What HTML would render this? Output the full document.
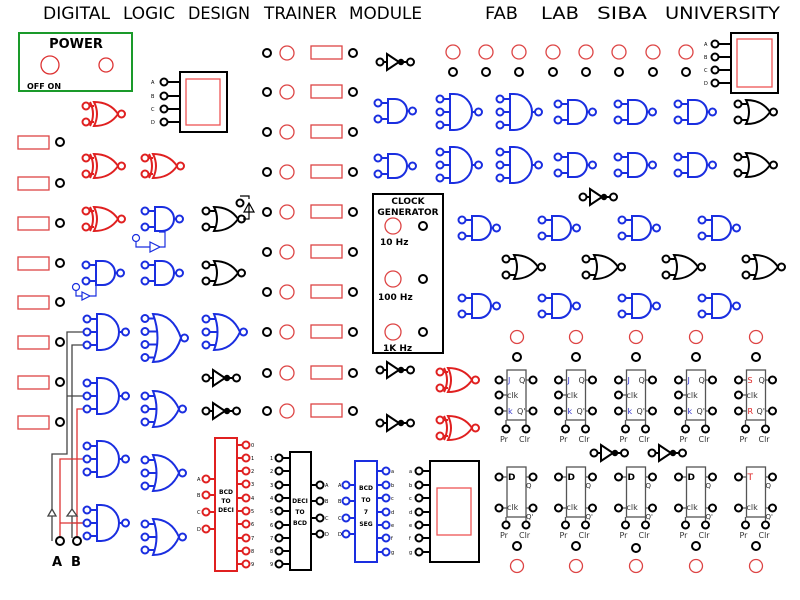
<!DOCTYPE html>
<html><head><meta charset="utf-8"><style>
html,body{margin:0;padding:0;background:#fff}
svg{display:block}
text{font-family:"DejaVu Sans","Liberation Sans",sans-serif}
</style></head><body>
<svg width="800" height="600" viewBox="0 0 800 600" xmlns="http://www.w3.org/2000/svg">
<defs>
<g id="pin"><circle r="4" fill="#fff" stroke="#000" stroke-width="2"/></g>
<g id="a2" fill="#fff" stroke="currentColor" stroke-width="2"><path d="M3.5,-8H10M3.5,8H10M29,0H31" fill="none"/><path d="M10,-12H17A12,12 0 0 1 17,12H10Z"/><circle cx="0" cy="-8" r="3.5"/><circle cx="0" cy="8" r="3.5"/><circle cx="34.5" cy="0" r="3.5"/></g>
<g id="a3" fill="#fff" stroke="currentColor" stroke-width="2"><path d="M3.5,-13H10M3.5,0H10M3.5,13H10M32,0H35" fill="none"/><path d="M10,-18H14A18,18 0 0 1 14,18H10Z"/><circle cx="0" cy="-13" r="3.5"/><circle cx="0" cy="0" r="3.5"/><circle cx="0" cy="13" r="3.5"/><circle cx="38.5" cy="0" r="3.5"/></g>
<g id="o2" fill="#fff" stroke="currentColor" stroke-width="2"><path d="M3.5,-8H11M3.5,8H11M32,0H32" fill="none"/><path d="M8,-12Q24,-12 32,0Q24,12 8,12Q14,0 8,-12Z"/><circle cx="0" cy="-8" r="3.5"/><circle cx="0" cy="8" r="3.5"/><circle cx="35.5" cy="0" r="3.5"/></g>
<g id="x2" fill="#fff" stroke="currentColor" stroke-width="2"><path d="M3.5,-8H8M3.5,8H8M4,-12Q10,0 4,12" fill="none"/><path d="M8,-12Q24,-12 32,0Q24,12 8,12Q14,0 8,-12Z"/><circle cx="0" cy="-8" r="3.5"/><circle cx="0" cy="8" r="3.5"/><circle cx="35.5" cy="0" r="3.5"/></g>
<g id="o3" fill="#fff" stroke="currentColor" stroke-width="2"><path d="M3.5,-13H12M3.5,0H14M3.5,13H12" fill="none"/><path d="M8,-18Q26,-18 34,0Q26,18 8,18Q15,0 8,-18Z"/><circle cx="0" cy="-13" r="3.5"/><circle cx="0" cy="0" r="3.5"/><circle cx="0" cy="13" r="3.5"/><circle cx="37.5" cy="0" r="3.5"/></g>
<g id="o4" fill="#fff" stroke="currentColor" stroke-width="2"><path d="M3.5,-19.5H12M3.5,-6.5H15M3.5,6.5H15M3.5,19.5H12" fill="none"/><path d="M8,-24Q28,-24 36,0Q28,24 8,24Q17,0 8,-24Z"/><circle cx="0" cy="-19.5" r="3.5"/><circle cx="0" cy="-6.5" r="3.5"/><circle cx="0" cy="6.5" r="3.5"/><circle cx="0" cy="19.5" r="3.5"/><circle cx="39.5" cy="0" r="3.5"/></g>
<g id="n1" fill="#fff" stroke="currentColor" stroke-width="2"><path d="M3.5,0H7M21,0H27" fill="none"/><path d="M7,-8L19,0L7,8Z"/><circle cx="21" cy="0" r="2.2" fill="currentColor"/><circle cx="0" cy="0" r="3.5"/><circle cx="30.5" cy="0" r="3.5"/></g>
</defs>

<!-- titles -->
<g font-size="17">
<text x="43" y="19" textLength="67" lengthAdjust="spacingAndGlyphs">DIGITAL</text>
<text x="123" y="19" textLength="52" lengthAdjust="spacingAndGlyphs">LOGIC</text>
<text x="188" y="19" textLength="62" lengthAdjust="spacingAndGlyphs">DESIGN</text>
<text x="264" y="19" textLength="73" lengthAdjust="spacingAndGlyphs">TRAINER</text>
<text x="349" y="19" textLength="73" lengthAdjust="spacingAndGlyphs">MODULE</text>
<text x="485" y="19" textLength="33" lengthAdjust="spacingAndGlyphs">FAB</text>
<text x="541" y="19" textLength="38" lengthAdjust="spacingAndGlyphs">LAB</text>
<text x="597" y="19" textLength="50" lengthAdjust="spacingAndGlyphs">SIBA</text>
<text x="665" y="19" textLength="115" lengthAdjust="spacingAndGlyphs">UNIVERSITY</text>
</g>

<!-- power -->
<rect x="19" y="33" width="113" height="58" fill="none" stroke="#1a9a2a" stroke-width="2"/>
<text x="76" y="48" font-size="13" font-weight="bold" text-anchor="middle">POWER</text>
<circle cx="50" cy="65" r="9" fill="none" stroke="#d33" stroke-width="1.3"/>
<circle cx="106" cy="65" r="7" fill="none" stroke="#d33" stroke-width="1.3"/>
<text x="27" y="89" font-size="8" font-weight="bold">OFF  ON</text>

<!-- top-left display -->
<g stroke="#000" stroke-width="2" fill="#fff">
<rect x="180" y="72" width="47" height="60"/>
<path d="M168,82H180M168,96H180M168,109H180M168,122H180"/>
<circle cx="164" cy="82" r="3.5"/><circle cx="164" cy="96" r="3.5"/><circle cx="164" cy="109" r="3.5"/><circle cx="164" cy="122" r="3.5"/>
</g>
<rect x="186" y="79" width="34" height="46" fill="none" stroke="#e55" stroke-width="1.3"/>
<g font-size="5"><text x="151" y="84">A</text><text x="151" y="98">B</text><text x="151" y="111">C</text><text x="151" y="124">D</text></g>

<!-- left red rects + pins -->
<g fill="none" stroke="#d44" stroke-width="1.3">
<rect x="18" y="136" width="31" height="13"/><rect x="18" y="177" width="31" height="13"/><rect x="18" y="217" width="31" height="13"/><rect x="18" y="257" width="31" height="13"/><rect x="18" y="296" width="31" height="13"/><rect x="18" y="336" width="31" height="13"/><rect x="18" y="376" width="31" height="13"/><rect x="18" y="416" width="31" height="13"/>
</g>
<use href="#pin" x="60" y="142"/><use href="#pin" x="60" y="183"/><use href="#pin" x="60" y="223"/><use href="#pin" x="60" y="263"/><use href="#pin" x="60" y="302"/><use href="#pin" x="60" y="342"/><use href="#pin" x="60" y="382"/><use href="#pin" x="60" y="422"/>

<!-- wiring A/B -->
<g fill="none" stroke-width="1.3">
<path d="M52,541V454H67V332H84M72,538V345H84M67,396H84M72,523H84" stroke="#444"/>
<path d="M60,537V459H84M60,523H84M77,537V409H84" stroke="#d33"/>
<path d="M48,516L52,509L56,516ZM67,516L72,509L77,516Z" stroke="#444" fill="#fff"/>
</g>
<circle cx="60" cy="541" r="4" fill="#fff" stroke="#000" stroke-width="2"/><circle cx="77" cy="541" r="4" fill="#fff" stroke="#000" stroke-width="2"/>
<text x="52" y="566" font-size="13" font-weight="bold">A</text><text x="71" y="566" font-size="13" font-weight="bold">B</text>

<!-- left gates -->
<g color="#e02020">
<use href="#x2" x="86" y="114"/><use href="#x2" x="86" y="166"/><use href="#x2" x="86" y="219"/><use href="#x2" x="145" y="166"/>
<use href="#x2" x="440" y="380"/><use href="#x2" x="440" y="428"/>
</g>
<g color="#1a2ee0">
<use href="#a2" x="145" y="219"/><use href="#a2" x="86" y="273"/><use href="#a2" x="145" y="273"/>
<use href="#a3" x="87" y="332"/><use href="#a3" x="87" y="396"/><use href="#a3" x="87" y="459"/><use href="#a3" x="87" y="523"/>
<use href="#o4" x="145" y="338"/><use href="#o3" x="145" y="409"/><use href="#o3" x="145" y="473"/><use href="#o3" x="145" y="537"/>
<use href="#o3" x="206" y="332"/>
<g fill="none" stroke="#1a2ee0" stroke-width="1.2"><circle cx="136" cy="238" r="3.5" fill="#fff"/><path d="M136,242V247H150M150,242L160,247L150,252ZM160,247H165V232H159"/><circle cx="76" cy="287" r="3.5" fill="#fff"/><path d="M76,291V296H82M82,292L90,296L82,300ZM90,296H96V285"/></g>
</g>
<g color="#000">
<use href="#o2" x="206" y="219"/><use href="#o2" x="206" y="273"/>
<use href="#n1" x="206" y="378"/><use href="#n1" x="206" y="411"/>
<g fill="none" stroke="#000" stroke-width="1.2"><path d="M243,219H249V203M244,212L254,212L249,203ZM249,199V196H240"/><circle cx="240" cy="203" r="3.5" fill="#fff" stroke-width="2"/></g>
</g>

<!-- middle column -->
<g>
<use href="#pin" x="267" y="53"/><use href="#pin" x="267" y="92"/><use href="#pin" x="267" y="132"/><use href="#pin" x="267" y="172"/><use href="#pin" x="267" y="212"/><use href="#pin" x="267" y="252"/><use href="#pin" x="267" y="292"/><use href="#pin" x="267" y="332"/><use href="#pin" x="267" y="373"/><use href="#pin" x="267" y="411"/>
<use href="#pin" x="353" y="53"/><use href="#pin" x="353" y="92"/><use href="#pin" x="353" y="132"/><use href="#pin" x="353" y="172"/><use href="#pin" x="353" y="212"/><use href="#pin" x="353" y="252"/><use href="#pin" x="353" y="292"/><use href="#pin" x="353" y="332"/><use href="#pin" x="353" y="373"/><use href="#pin" x="353" y="411"/>
</g>
<g fill="none" stroke="#d44" stroke-width="1.3">
<circle cx="287" cy="53" r="7"/><circle cx="287" cy="92" r="7"/><circle cx="287" cy="132" r="7"/><circle cx="287" cy="172" r="7"/><circle cx="287" cy="212" r="7"/><circle cx="287" cy="252" r="7"/><circle cx="287" cy="292" r="7"/><circle cx="287" cy="332" r="7"/><circle cx="287" cy="373" r="7"/><circle cx="287" cy="411" r="7"/>
<rect x="311" y="46" width="31" height="13"/><rect x="311" y="85" width="31" height="13"/><rect x="311" y="125" width="31" height="13"/><rect x="311" y="165" width="31" height="13"/><rect x="311" y="205" width="31" height="13"/><rect x="311" y="245" width="31" height="13"/><rect x="311" y="285" width="31" height="13"/><rect x="311" y="325" width="31" height="13"/><rect x="311" y="366" width="31" height="13"/><rect x="311" y="404" width="31" height="13"/>
</g>

<!-- inverters -->
<g color="#000">
<use href="#n1" x="380" y="62"/><use href="#n1" x="380" y="370"/><use href="#n1" x="380" y="423"/>
<use href="#n1" x="583" y="197"/><use href="#n1" x="594" y="453"/><use href="#n1" x="652" y="453"/>
</g>

<!-- right gate grid -->
<g color="#1a2ee0">
<use href="#a2" x="378" y="111"/><use href="#a2" x="378" y="166"/>
<use href="#a3" x="440" y="112"/><use href="#a3" x="500" y="112"/><use href="#a3" x="440" y="165"/><use href="#a3" x="500" y="165"/>
<use href="#a2" x="558" y="112"/><use href="#a2" x="618" y="112"/><use href="#a2" x="678" y="112"/>
<use href="#a2" x="558" y="165"/><use href="#a2" x="618" y="165"/><use href="#a2" x="678" y="165"/>
<use href="#a2" x="462" y="228"/><use href="#a2" x="542" y="228"/><use href="#a2" x="622" y="228"/><use href="#a2" x="702" y="228"/>
<use href="#a2" x="462" y="306"/><use href="#a2" x="542" y="306"/><use href="#a2" x="622" y="306"/><use href="#a2" x="702" y="306"/>
</g>
<g color="#000">
<use href="#o2" x="738" y="112"/><use href="#o2" x="738" y="165"/>
<use href="#o2" x="506" y="267"/><use href="#o2" x="586" y="267"/><use href="#o2" x="666" y="267"/><use href="#o2" x="746" y="267"/>
</g>

<!-- top right LEDs -->
<g fill="none" stroke="#d44" stroke-width="1.3">
<circle cx="453" cy="52" r="7"/><circle cx="486" cy="52" r="7"/><circle cx="519" cy="52" r="7"/><circle cx="553" cy="52" r="7"/><circle cx="586" cy="52" r="7"/><circle cx="619" cy="52" r="7"/><circle cx="653" cy="52" r="7"/><circle cx="686" cy="52" r="7"/>
</g>
<use href="#pin" x="453" y="72"/><use href="#pin" x="486" y="72"/><use href="#pin" x="519" y="72"/><use href="#pin" x="553" y="72"/><use href="#pin" x="586" y="72"/><use href="#pin" x="619" y="72"/><use href="#pin" x="653" y="72"/><use href="#pin" x="686" y="72"/>
<g stroke="#000" stroke-width="2" fill="#fff">
<rect x="731" y="33" width="47" height="60"/>
<path d="M719,44H731M719,57H731M719,70H731M719,83H731"/>
<circle cx="715" cy="44" r="3.5"/><circle cx="715" cy="57" r="3.5"/><circle cx="715" cy="70" r="3.5"/><circle cx="715" cy="83" r="3.5"/>
</g>
<rect x="737" y="39" width="35" height="48" fill="none" stroke="#e55" stroke-width="1.3"/>
<g font-size="5"><text x="704" y="46">A</text><text x="704" y="59">B</text><text x="704" y="72">C</text><text x="704" y="85">D</text></g>

<!-- clock generator -->
<rect x="373" y="194" width="70" height="159" fill="none" stroke="#000" stroke-width="2"/>
<text x="408" y="204" font-size="9" font-weight="bold" text-anchor="middle">CLOCK</text>
<text x="408" y="215" font-size="9" font-weight="bold" text-anchor="middle">GENERATOR</text>
<g fill="none" stroke="#d44" stroke-width="1.3"><circle cx="393" cy="226" r="8"/><circle cx="393" cy="279" r="8"/><circle cx="393" cy="332" r="8"/></g>
<use href="#pin" x="423" y="226"/><use href="#pin" x="423" y="279"/><use href="#pin" x="423" y="332"/>
<g font-size="9" font-weight="bold"><text x="380" y="245">10 Hz</text><text x="378" y="300">100 Hz</text><text x="383" y="351">1K Hz</text></g>

<!-- BCD TO DECI -->
<g stroke="#e02020" stroke-width="2" fill="#fff">
<rect x="215" y="438" width="22" height="133"/>
<path d="M210,479H215M210,495H215M210,512H215M210,529H215M237,445H242M237,458H242M237,471H242M237,484H242M237,498H242M237,511H242M237,524H242M237,538H242M237,551H242M237,564H242"/>
<circle cx="206" cy="479" r="3.5"/><circle cx="206" cy="495" r="3.5"/><circle cx="206" cy="512" r="3.5"/><circle cx="206" cy="529" r="3.5"/>
<circle cx="246" cy="445" r="3.5"/><circle cx="246" cy="458" r="3.5"/><circle cx="246" cy="471" r="3.5"/><circle cx="246" cy="484" r="3.5"/><circle cx="246" cy="498" r="3.5"/><circle cx="246" cy="511" r="3.5"/><circle cx="246" cy="524" r="3.5"/><circle cx="246" cy="538" r="3.5"/><circle cx="246" cy="551" r="3.5"/><circle cx="246" cy="564" r="3.5"/>
</g>
<g font-size="5"><text x="197" y="481">A</text><text x="197" y="497">B</text><text x="197" y="514">C</text><text x="197" y="531">D</text>
<text x="251" y="447">0</text><text x="251" y="460">1</text><text x="251" y="473">2</text><text x="251" y="486">3</text><text x="251" y="500">4</text><text x="251" y="513">5</text><text x="251" y="526">6</text><text x="251" y="540">7</text><text x="251" y="553">8</text><text x="251" y="566">9</text></g>
<g font-size="6" font-weight="bold" text-anchor="middle"><text x="226" y="494">BCD</text><text x="226" y="503">TO</text><text x="226" y="512">DECI</text></g>

<!-- DECI TO BCD -->
<g stroke="#000" stroke-width="2" fill="#fff">
<rect x="290" y="452" width="21" height="118"/>
<path d="M283,458H290M283,471H290M283,485H290M283,498H290M283,511H290M283,525H290M283,538H290M283,551H290M283,564H290M311,485H316M311,501H316M311,518H316M311,534H316"/>
<circle cx="279" cy="458" r="3.5"/><circle cx="279" cy="471" r="3.5"/><circle cx="279" cy="485" r="3.5"/><circle cx="279" cy="498" r="3.5"/><circle cx="279" cy="511" r="3.5"/><circle cx="279" cy="525" r="3.5"/><circle cx="279" cy="538" r="3.5"/><circle cx="279" cy="551" r="3.5"/><circle cx="279" cy="564" r="3.5"/>
<circle cx="320" cy="485" r="3.5"/><circle cx="320" cy="501" r="3.5"/><circle cx="320" cy="518" r="3.5"/><circle cx="320" cy="534" r="3.5"/>
</g>
<g font-size="5"><text x="270" y="460">1</text><text x="270" y="473">2</text><text x="270" y="487">3</text><text x="270" y="500">4</text><text x="270" y="513">5</text><text x="270" y="527">6</text><text x="270" y="540">7</text><text x="270" y="553">8</text><text x="270" y="566">9</text>
<text x="325" y="487">A</text><text x="325" y="503">B</text><text x="325" y="520">C</text><text x="325" y="536">D</text></g>
<g font-size="6" font-weight="bold" text-anchor="middle"><text x="300" y="503">DECI</text><text x="300" y="514">TO</text><text x="300" y="525">BCD</text></g>

<!-- BCD TO 7 SEG -->
<g stroke="#1a2ee0" stroke-width="2" fill="#fff">
<rect x="355" y="461" width="22" height="101"/>
<path d="M350,485H355M350,501H355M350,518H355M350,534H355M377,471H382M377,485H382M377,498H382M377,512H382M377,525H382M377,538H382M377,552H382"/>
<circle cx="346" cy="485" r="3.5"/><circle cx="346" cy="501" r="3.5"/><circle cx="346" cy="518" r="3.5"/><circle cx="346" cy="534" r="3.5"/>
<circle cx="386" cy="471" r="3.5"/><circle cx="386" cy="485" r="3.5"/><circle cx="386" cy="498" r="3.5"/><circle cx="386" cy="512" r="3.5"/><circle cx="386" cy="525" r="3.5"/><circle cx="386" cy="538" r="3.5"/><circle cx="386" cy="552" r="3.5"/>
</g>
<g font-size="5"><text x="338" y="487">A</text><text x="338" y="503">B</text><text x="338" y="520">C</text><text x="338" y="536">D</text>
<text x="391" y="473">a</text><text x="391" y="487">b</text><text x="391" y="500">c</text><text x="391" y="514">d</text><text x="391" y="527">e</text><text x="391" y="540">f</text><text x="391" y="554">g</text></g>
<g font-size="6" font-weight="bold" text-anchor="middle"><text x="366" y="490">BCD</text><text x="366" y="502">TO</text><text x="366" y="514">7</text><text x="366" y="526">SEG</text></g>

<!-- 7 seg display -->
<g stroke="#000" stroke-width="2" fill="#fff">
<rect x="430" y="461" width="49" height="101"/>
<path d="M423,471H430M423,485H430M423,498H430M423,512H430M423,525H430M423,538H430M423,552H430"/>
<circle cx="419" cy="471" r="3.5"/><circle cx="419" cy="485" r="3.5"/><circle cx="419" cy="498" r="3.5"/><circle cx="419" cy="512" r="3.5"/><circle cx="419" cy="525" r="3.5"/><circle cx="419" cy="538" r="3.5"/><circle cx="419" cy="552" r="3.5"/>
</g>
<rect x="437" y="488" width="34" height="47" fill="none" stroke="#e55" stroke-width="1.3"/>
<g font-size="5"><text x="409" y="473">a</text><text x="409" y="487">b</text><text x="409" y="500">c</text><text x="409" y="514">d</text><text x="409" y="527">e</text><text x="409" y="540">f</text><text x="409" y="554">g</text></g>

<!-- flip-flops -->
<g fill="none" stroke="#d44" stroke-width="1.3">
<circle cx="517" cy="337" r="6.5"/><circle cx="576" cy="337" r="6.5"/><circle cx="636" cy="337" r="6.5"/><circle cx="696" cy="337" r="6.5"/><circle cx="756" cy="337" r="6.5"/>
<circle cx="517" cy="566" r="6.5"/><circle cx="576" cy="566" r="6.5"/><circle cx="636" cy="566" r="6.5"/><circle cx="696" cy="566" r="6.5"/><circle cx="756" cy="566" r="6.5"/>
</g>
<use href="#pin" x="517" y="357"/><use href="#pin" x="576" y="357"/><use href="#pin" x="636" y="357"/><use href="#pin" x="696" y="357"/><use href="#pin" x="756" y="357"/>
<use href="#pin" x="517" y="546"/><use href="#pin" x="576" y="546"/><use href="#pin" x="636" y="548"/><use href="#pin" x="696" y="546"/><use href="#pin" x="756" y="546"/>

<g id="jk">
<rect x="507" y="370" width="19" height="50" fill="#fff" stroke="#555" stroke-width="1.3"/>
<path d="M503,380H507M503,395H507M503,411H507M526,380H529M526,411H529M506,420V425M526,420V425" stroke="#555" stroke-width="1.3"/>
<circle cx="499" cy="380" r="3.5" fill="#fff" stroke="#000" stroke-width="2"/><circle cx="499" cy="395" r="3.5" fill="#fff" stroke="#000" stroke-width="2"/><circle cx="499" cy="411" r="3.5" fill="#fff" stroke="#000" stroke-width="2"/>
<circle cx="533" cy="380" r="3.5" fill="#fff" stroke="#000" stroke-width="2"/><circle cx="533" cy="411" r="3.5" fill="#fff" stroke="#000" stroke-width="2"/>
<circle cx="506" cy="429" r="3.5" fill="#fff" stroke="#000" stroke-width="2"/><circle cx="526" cy="429" r="3.5" fill="#fff" stroke="#000" stroke-width="2"/>
<text x="508" y="383" font-size="8" fill="#33c">J</text><text x="519" y="383" font-size="8" fill="#333">Q</text>
<text x="507" y="398" font-size="8" fill="#333">clk</text>
<text x="508" y="414" font-size="8" fill="#33c">k</text><text x="517" y="414" font-size="8" fill="#333">Q'</text>
<text x="500" y="442" font-size="8" fill="#333">Pr</text><text x="519" y="442" font-size="8" fill="#333">Clr</text>
</g>
<use href="#jk" x="59.5"/><use href="#jk" x="119.5"/><use href="#jk" x="179.5"/>
<g transform="translate(239.5,0)">
<rect x="507" y="370" width="19" height="50" fill="#fff" stroke="#555" stroke-width="1.3"/>
<path d="M503,380H507M503,395H507M503,411H507M526,380H529M526,411H529M506,420V425M526,420V425" stroke="#555" stroke-width="1.3"/>
<circle cx="499" cy="380" r="3.5" fill="#fff" stroke="#000" stroke-width="2"/><circle cx="499" cy="395" r="3.5" fill="#fff" stroke="#000" stroke-width="2"/><circle cx="499" cy="411" r="3.5" fill="#fff" stroke="#000" stroke-width="2"/>
<circle cx="533" cy="380" r="3.5" fill="#fff" stroke="#000" stroke-width="2"/><circle cx="533" cy="411" r="3.5" fill="#fff" stroke="#000" stroke-width="2"/>
<circle cx="506" cy="429" r="3.5" fill="#fff" stroke="#000" stroke-width="2"/><circle cx="526" cy="429" r="3.5" fill="#fff" stroke="#000" stroke-width="2"/>
<text x="508" y="383" font-size="8" fill="#d22">S</text><text x="519" y="383" font-size="8" fill="#333">Q</text>
<text x="507" y="398" font-size="8" fill="#333">clk</text>
<text x="508" y="414" font-size="8" fill="#d22">R</text><text x="517" y="414" font-size="8" fill="#333">Q'</text>
<text x="500" y="442" font-size="8" fill="#333">Pr</text><text x="519" y="442" font-size="8" fill="#333">Clr</text>
</g>

<g id="dff">
<rect x="507" y="467" width="19" height="50" fill="#fff" stroke="#555" stroke-width="1.3"/>
<path d="M503,477H507M503,508H507M526,477H529M526,508H529M506,517V521M526,517V521" stroke="#555" stroke-width="1.3"/>
<circle cx="499" cy="477" r="3.5" fill="#fff" stroke="#000" stroke-width="2"/><circle cx="499" cy="508" r="3.5" fill="#fff" stroke="#000" stroke-width="2"/>
<circle cx="533" cy="477" r="3.5" fill="#fff" stroke="#000" stroke-width="2"/><circle cx="533" cy="508" r="3.5" fill="#fff" stroke="#000" stroke-width="2"/>
<circle cx="506" cy="525" r="3.5" fill="#fff" stroke="#000" stroke-width="2"/><circle cx="526" cy="525" r="3.5" fill="#fff" stroke="#000" stroke-width="2"/>
<text x="507" y="510" font-size="8" fill="#333">clk</text>
<text x="526" y="488" font-size="7" fill="#333">Q</text><text x="526" y="519" font-size="7" fill="#333">Q'</text>
<text x="500" y="538" font-size="8" fill="#333">Pr</text><text x="519" y="538" font-size="8" fill="#333">Clr</text>
</g>
<use href="#dff" x="59.5"/><use href="#dff" x="119.5"/><use href="#dff" x="179.5"/><use href="#dff" x="239.5"/>
<g font-size="9" font-weight="bold"><text x="508" y="480">D</text><text x="567.5" y="480">D</text><text x="627.5" y="480">D</text><text x="687.5" y="480">D</text></g>
<text x="747.5" y="480" font-size="9" fill="#d22">T</text>
</svg>
</body></html>
